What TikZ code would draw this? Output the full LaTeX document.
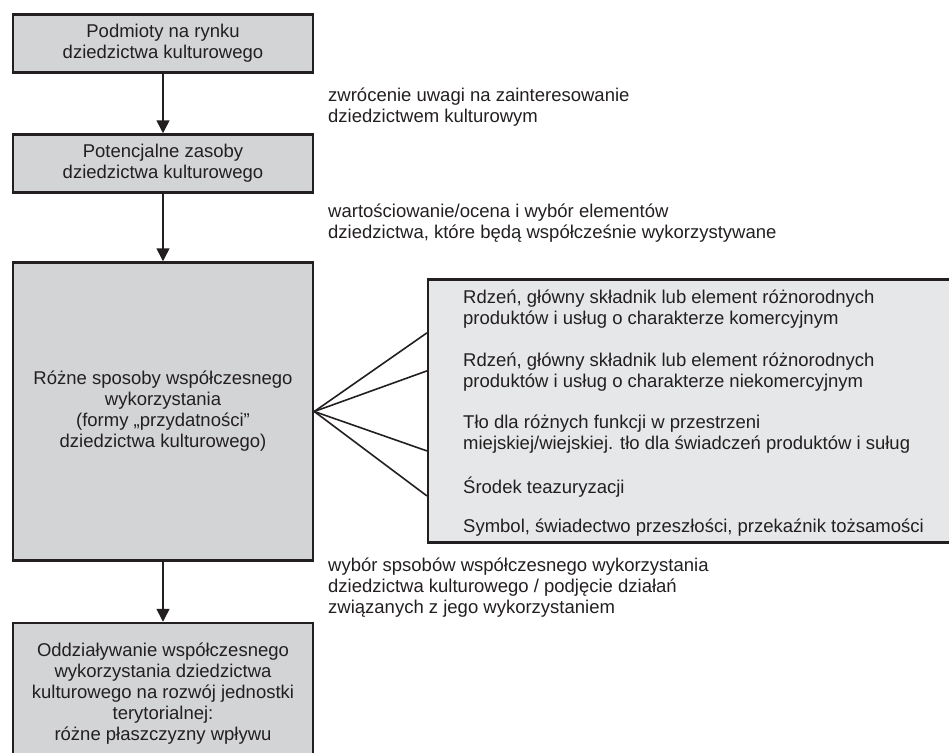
\documentclass[tikz,border=0pt]{standalone}
\usepackage{fontspec}
\setmainfont{Liberation Sans}
\usepackage{tikz}
\usetikzlibrary{arrows.meta, calc}

\definecolor{boxgray}{RGB}{211,212,214}
\definecolor{panelgray}{RGB}{230,231,232}
\definecolor{ink}{RGB}{35,31,32}

\begin{document}
\begin{tikzpicture}[x = {(1pt,0pt)},
                    y = {(0pt,-1pt)},
                    font = \fontsize{18.5}{21}\selectfont,
                    text = ink,
                    stage/.style = {draw=ink, fill=boxgray, line width=2.5pt,
                                    minimum width=300pt, align=center, inner sep=0pt},
                    panel/.style = {draw=ink, fill=panelgray, line width=2.2pt, inner sep=0pt},
                    item/.style  = {anchor=west, align=left, inner sep=0pt},
                    note/.style  = {anchor=west, align=left, inner sep=0pt},
                    flow/.style  = {draw=ink, line width=1.6pt, -{Triangle[length=13pt, width=13pt]}},
                    fan/.style   = {draw=ink, line width=1.6pt}]

    \useasboundingbox (0,0) rectangle (949,752);
    \clip (0,0) rectangle (949,752);

    % left column
    \node[stage, minimum height=58pt] (actors) at (163,43.5)
        {Podmioty na rynku\\dziedzictwa kulturowego};
    \node[stage, minimum height=58pt] (resources) at (163,163.5)
        {Potencjalne zasoby\\dziedzictwa kulturowego};
    \node[stage, minimum height=298pt] (uses) at (163,411.5)
        {Różne sposoby współczesnego\\wykorzystania\\(formy „przydatności”\\dziedzictwa kulturowego)};
    \node[stage, minimum height=142pt] (impact) at (163,694)
        {Oddziaływanie współczesnego\\wykorzystania dziedzictwa\\kulturowego na rozwój jednostki\\terytorialnej:\\różne płaszczyzny wpływu};

    \draw[flow] (actors) -- (resources);
    \draw[flow] (resources) -- (uses);
    \draw[flow] (uses) -- (impact);

    \node[note] (attention) at (328,107)
        {zwrócenie uwagi na zainteresowanie\\dziedzictwem kulturowym};
    \node[note] (valuation) at (328,223)
        {wartościowanie/ocena i wybór elementów\\dziedzictwa, które będą współcześnie wykorzystywane};
    \node[note] (choice) at (328,588)
        {wybór spsobów współczesnego wykorzystania\\dziedzictwa kulturowego / podjęcie działań\\związanych z jego wykorzystaniem};

    % forms of usefulness
    \node[panel, minimum width=532pt, minimum height=263pt] (forms) at (694,411) {};

    \node[item] (commercial) at (463,309)
        {Rdzeń, główny składnik lub element różnorodnych\\produktów i usług o charakterze komercyjnym};
    \node[item] (noncommercial) at (463,372)
        {Rdzeń, główny składnik lub element różnorodnych\\produktów i usług o charakterze niekomercyjnym};
    \node[item] (background) at (463,434.5)
        {Tło dla różnych funkcji w przestrzeni\\miejskiej/wiejskiej. tło dla świadczeń produktów i suług};
    \node[item] (theme) at (463,487) {Środek teazuryzacji};
    \node[item] (symbol) at (463,528) {Symbol, świadectwo przeszłości, przekaźnik tożsamości};

    \foreach \k/\dy in {1/54.5, 2/92.5, 3/172.5, 4/217.5}
        \coordinate (f\k) at ($(forms.north west)+(0,\dy)$);
    \foreach \k in {1,...,4}
        \draw[fan] (uses.east) -- (f\k);
\end{tikzpicture}
\end{document}
